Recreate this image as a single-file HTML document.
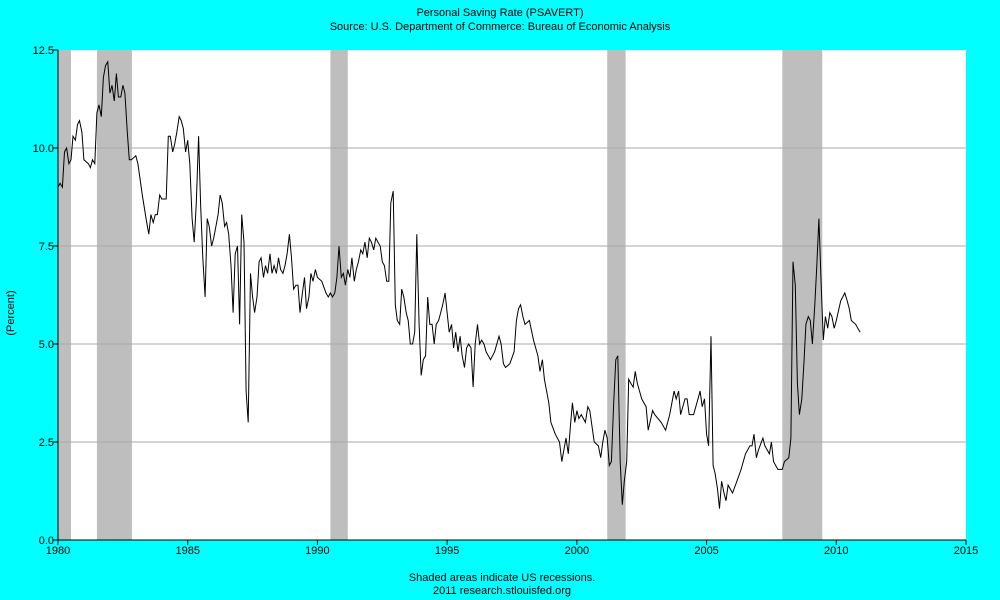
<!DOCTYPE html>
<html><head><meta charset="utf-8"><style>
html,body{margin:0;padding:0;background:#00ffff;}
svg{display:block;font-family:"Liberation Sans",sans-serif;}
</style></head><body>
<svg width="1000" height="600" viewBox="0 0 1000 600" xmlns="http://www.w3.org/2000/svg">
<rect x="0" y="0" width="1000" height="600" fill="#00ffff"/>
<text x="500" y="16" font-size="11" text-anchor="middle">Personal Saving Rate (PSAVERT)</text>
<text x="500" y="30" font-size="11" text-anchor="middle">Source: U.S. Department of Commerce: Bureau of Economic Analysis</text>
<text transform="translate(14,313) rotate(-90)" font-size="11" text-anchor="middle">(Percent)</text>
<text x="502" y="581" font-size="11" text-anchor="middle">Shaded areas indicate US recessions.</text>
<text x="502" y="594" font-size="11" text-anchor="middle">2011 research.stlouisfed.org</text>
<rect x="58" y="50" width="908" height="490" fill="#ffffff"/>
<g id="rec"></g><g id="grid"></g><g id="axes"></g>
<path id="line" fill="none" stroke="#000" stroke-width="1"/>
</svg>
<script>
const recessions=[[1980.0,1980.5],[1981.5,1982.85],[1990.5,1991.17],[2001.17,2001.88],[2007.92,2009.46]];
const yTicks=[0,2.5,5,7.5,10,12.5];
const yTickLabels=["0.0","2.5","5.0","7.5","10.0","12.5"];
const xTicks=[1980,1985,1990,1995,2000,2005,2010,2015];
const dates=[1980.0,1980.08,1980.17,1980.25,1980.33,1980.42,1980.5,1980.58,1980.67,1980.75,1980.83,1980.92,1981.0,1981.17,1981.25,1981.33,1981.42,1981.5,1981.58,1981.67,1981.75,1981.83,1981.92,1982.0,1982.08,1982.17,1982.25,1982.33,1982.42,1982.5,1982.58,1982.67,1982.75,1982.83,1983.0,1983.08,1983.25,1983.42,1983.5,1983.58,1983.67,1983.75,1983.83,1983.92,1984.0,1984.17,1984.25,1984.33,1984.42,1984.5,1984.58,1984.67,1984.75,1984.83,1984.92,1985.0,1985.08,1985.17,1985.25,1985.33,1985.42,1985.5,1985.58,1985.67,1985.75,1985.83,1985.92,1986.0,1986.17,1986.25,1986.33,1986.42,1986.5,1986.58,1986.67,1986.75,1986.83,1986.92,1987.0,1987.08,1987.17,1987.25,1987.33,1987.42,1987.5,1987.58,1987.67,1987.75,1987.83,1987.92,1988.0,1988.08,1988.17,1988.25,1988.33,1988.42,1988.5,1988.58,1988.67,1988.75,1988.83,1988.92,1989.0,1989.08,1989.17,1989.25,1989.33,1989.42,1989.5,1989.58,1989.67,1989.75,1989.83,1989.92,1990.0,1990.17,1990.33,1990.42,1990.5,1990.58,1990.67,1990.75,1990.83,1990.92,1991.0,1991.08,1991.17,1991.25,1991.33,1991.42,1991.5,1991.58,1991.67,1991.75,1991.83,1991.92,1992.0,1992.08,1992.17,1992.25,1992.33,1992.42,1992.5,1992.58,1992.67,1992.75,1992.83,1992.92,1993.0,1993.08,1993.17,1993.25,1993.33,1993.42,1993.5,1993.58,1993.67,1993.75,1993.83,1993.92,1994.0,1994.08,1994.17,1994.25,1994.33,1994.42,1994.5,1994.58,1994.67,1994.75,1994.83,1994.92,1995.0,1995.08,1995.17,1995.25,1995.33,1995.42,1995.5,1995.58,1995.67,1995.75,1995.83,1995.92,1996.0,1996.08,1996.17,1996.25,1996.33,1996.42,1996.5,1996.67,1996.83,1997.0,1997.08,1997.17,1997.25,1997.42,1997.58,1997.67,1997.75,1997.83,1997.92,1998.0,1998.17,1998.33,1998.5,1998.58,1998.67,1998.75,1998.92,1999.0,1999.17,1999.33,1999.42,1999.58,1999.67,1999.75,1999.83,1999.92,2000.0,2000.08,2000.17,2000.33,2000.42,2000.5,2000.67,2000.83,2000.92,2001.0,2001.08,2001.17,2001.25,2001.33,2001.42,2001.5,2001.58,2001.67,2001.75,2001.83,2001.92,2002.0,2002.08,2002.17,2002.25,2002.33,2002.5,2002.67,2002.75,2002.92,2003.0,2003.25,2003.42,2003.58,2003.75,2003.83,2003.92,2004.0,2004.17,2004.25,2004.33,2004.5,2004.67,2004.75,2004.83,2004.92,2005.0,2005.08,2005.17,2005.25,2005.33,2005.42,2005.5,2005.58,2005.67,2005.75,2005.83,2006.0,2006.17,2006.33,2006.5,2006.67,2006.75,2006.83,2006.92,2007.0,2007.17,2007.25,2007.42,2007.5,2007.58,2007.75,2007.92,2008.0,2008.17,2008.25,2008.33,2008.42,2008.5,2008.58,2008.67,2008.75,2008.83,2008.92,2009.0,2009.08,2009.17,2009.25,2009.33,2009.42,2009.5,2009.58,2009.67,2009.75,2009.83,2009.92,2010.0,2010.17,2010.33,2010.42,2010.5,2010.58,2010.75,2010.83,2010.92];
const values=[9.0,9.1,9.0,9.9,10.0,9.6,9.7,10.3,10.2,10.6,10.7,10.4,9.7,9.6,9.5,9.7,9.6,10.9,11.1,10.8,11.8,12.1,12.2,11.4,11.6,11.2,11.9,11.3,11.3,11.6,11.4,10.4,9.7,9.7,9.8,9.6,8.8,8.1,7.8,8.3,8.1,8.3,8.3,8.8,8.7,8.7,10.3,10.3,9.9,10.1,10.4,10.8,10.7,10.5,9.9,10.2,9.6,8.2,7.6,8.6,10.3,8.5,7.2,6.2,8.2,8.0,7.5,7.7,8.3,8.8,8.6,8.0,8.1,7.8,7.0,5.8,7.3,7.5,5.5,8.3,7.6,3.8,3.0,6.8,6.2,5.8,6.2,7.1,7.2,6.7,7.0,6.8,7.3,6.8,7.0,6.8,7.2,6.9,6.8,7.0,7.3,7.8,7.2,6.4,6.5,6.5,5.8,6.3,6.7,5.9,6.2,6.8,6.6,6.9,6.7,6.6,6.3,6.2,6.3,6.2,6.3,6.7,7.5,6.7,6.8,6.5,6.9,6.7,7.2,6.6,6.9,7.1,7.4,7.3,7.6,7.2,7.7,7.6,7.4,7.7,7.6,7.5,7.1,7.0,6.6,6.6,8.6,8.9,6.0,5.6,5.5,6.4,6.2,5.8,5.6,5.0,5.0,5.3,7.8,5.5,4.2,4.6,4.7,6.2,5.5,5.5,5.0,5.5,5.6,5.8,6.0,6.3,5.8,5.3,5.5,4.9,5.3,4.8,5.2,4.7,4.4,4.9,5.0,4.9,3.9,5.0,5.5,5.0,5.1,5.0,4.8,4.6,4.8,5.2,5.0,4.5,4.4,4.5,4.8,5.6,5.9,6.0,5.7,5.5,5.6,5.1,4.7,4.3,4.6,4.1,3.5,3.0,2.7,2.5,2.0,2.6,2.2,2.9,3.5,3.0,3.3,3.1,3.2,3.0,3.4,3.3,2.5,2.4,2.1,2.5,2.8,2.6,1.9,2.0,3.5,4.6,4.7,2.0,0.9,1.5,2.0,4.1,4.0,3.9,4.3,4.0,3.6,3.4,2.8,3.3,3.2,3.0,2.8,3.2,3.8,3.6,3.8,3.2,3.6,3.6,3.2,3.2,3.6,3.8,3.4,3.6,2.7,2.4,5.2,1.9,1.7,1.3,0.8,1.5,1.2,1.0,1.4,1.2,1.5,1.8,2.2,2.4,2.4,2.7,2.1,2.3,2.6,2.4,2.2,2.5,2.0,1.8,1.8,2.0,2.1,2.6,7.1,6.5,4.0,3.2,3.6,4.5,5.5,5.7,5.6,5.0,6.0,7.0,8.2,6.5,5.1,5.7,5.4,5.8,5.7,5.4,5.6,6.1,6.3,6.1,5.9,5.6,5.5,5.4,5.3];
const X0=58,X1=966,Y0=540,Y1=50;
const xs=t=>X0+(t-1980)/(2015-1980)*(X1-X0);
const ys=v=>Y0-v/12.5*(Y0-Y1);
const NS="http://www.w3.org/2000/svg";
function mk(tag,attrs,parent){const e=document.createElementNS(NS,tag);for(const k in attrs)e.setAttribute(k,attrs[k]);parent.appendChild(e);return e;}
const rec=document.getElementById('rec'),grid=document.getElementById('grid'),axes=document.getElementById('axes');
recessions.forEach(r=>{
 const e=mk('rect',{x:xs(r[0]),y:Y1,width:xs(r[1])-xs(r[0]),height:Y0-Y1,fill:'#bebebe'},rec);
 
 
});
yTicks.forEach((v,i)=>{
 if(v>0&&v<12.5){const g=mk('line',{x1:X0,x2:X1,y1:ys(v),y2:ys(v),stroke:'#aaaaaa'},grid);
 
 }
 const t=mk('line',{x1:X0-5,x2:X0,y1:ys(v),y2:ys(v),stroke:'#000'},axes);
 
 
 const l=mk('text',{x:X0-4,y:ys(v)+4,'font-size':11,'text-anchor':'end'},axes);
 l.textContent=yTickLabels[i];
 
 
});
xTicks.forEach(yr=>{
 const t=mk('line',{x1:xs(yr),x2:xs(yr),y1:Y0,y2:Y0+5,stroke:'#000'},axes);
 
 
 const l=mk('text',{x:xs(yr),y:Y0+14,'font-size':11,'text-anchor':'middle'},axes);
 l.textContent=String(yr);
 
 
});
const ax=mk('path',{d:`M${X0},${Y1}V${Y0}H${X1}`,fill:'none',stroke:'#000'},axes);


document.getElementById('line').setAttribute('d',dates.map((d,i)=>(i?'L':'M')+xs(d).toFixed(1)+','+ys(values[i]).toFixed(1)).join(''));
</script>
</body></html>
